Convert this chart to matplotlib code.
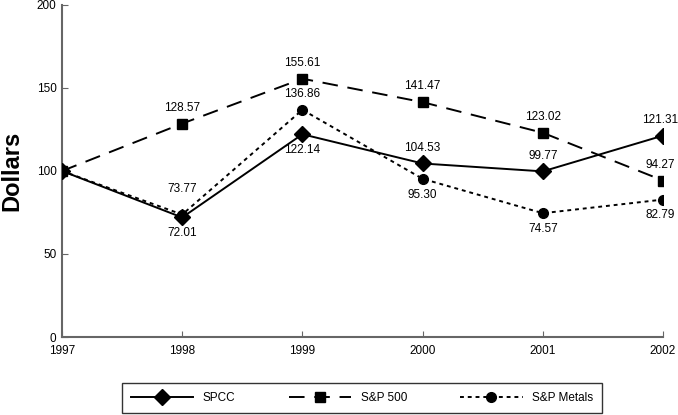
import matplotlib
matplotlib.use("Agg")
import matplotlib.pyplot as plt

plt.rcParams['font.family'] = ['Liberation Sans', 'DejaVu Sans']

years = [1997, 1998, 1999, 2000, 2001, 2002]
spcc = [100, 72.01, 122.14, 104.53, 99.77, 121.31]
sp500 = [100, 128.57, 155.61, 141.47, 123.02, 94.27]
metals = [100, 73.77, 136.86, 95.30, 74.57, 82.79]

spcc_pos = [None, 'below', 'below', 'above', 'above', 'above']
sp500_pos = [None, 'above', 'above', 'above', 'above', 'above']
metals_pos = [None, 'above2', 'above', 'below', 'below', 'below']

fig = plt.figure(figsize=(6.78, 4.15), dpi=100)
ax = fig.add_axes([62/678, 1-337/415, (663-62)/678, (337-5)/415])

ax.plot(years, spcc, color='black', lw=1.4, marker='D', ms=8, label='SPCC', zorder=3)
ax.plot(years, sp500, color='black', lw=1.4, marker='s', ms=7, dashes=(8, 5), label='S&P 500', zorder=3)
ax.plot(years, metals, color='black', lw=1.4, marker='o', ms=7, dashes=(2, 2), label='S&P Metals', zorder=3)

def annotate(vals, pos):
    for x, v, p in zip(years, vals, pos):
        if p is None:
            continue
        if p == 'above':
            off, va = 7, 'bottom'
        elif p == 'above2':
            off, va = 14, 'bottom'
        else:
            off, va = -7, 'top'
        dx = -2 if x == years[-1] else 0
        ax.annotate(f"{v:.2f}", (x, v), xytext=(dx, off), textcoords='offset points',
                    ha='center', va=va, fontsize=8.5)

annotate(spcc, spcc_pos)
annotate(sp500, sp500_pos)
annotate(metals, metals_pos)

ax.set_xlim(1997, 2002)
ax.set_ylim(0, 200)
ax.set_xticks(years)
ax.set_yticks([0, 50, 100, 150, 200])
for s in ['top', 'right']:
    ax.spines[s].set_visible(False)
for s in ['left', 'bottom']:
    ax.spines[s].set_color('#666666')
    ax.spines[s].set_linewidth(1.5)
ax.tick_params(direction='in', length=4, color='#666666', labelsize=8.5)
ax.tick_params(axis='x', pad=6)
ax.tick_params(axis='y', pad=4)
ax.set_ylabel('Dollars', fontsize=17, fontweight='bold')
ax.yaxis.set_label_coords(-0.064, 0.5)

leg = fig.legend(loc='center', bbox_to_anchor=(362/678, 1-398/415), ncol=3,
                 frameon=True, fancybox=False, edgecolor='black', fontsize=8.5,
                 handlelength=5.3, handletextpad=0.8, columnspacing=4.5, borderpad=0.75)
leg.get_frame().set_linewidth(1.0)

fig.savefig('out.png', dpi=100)
